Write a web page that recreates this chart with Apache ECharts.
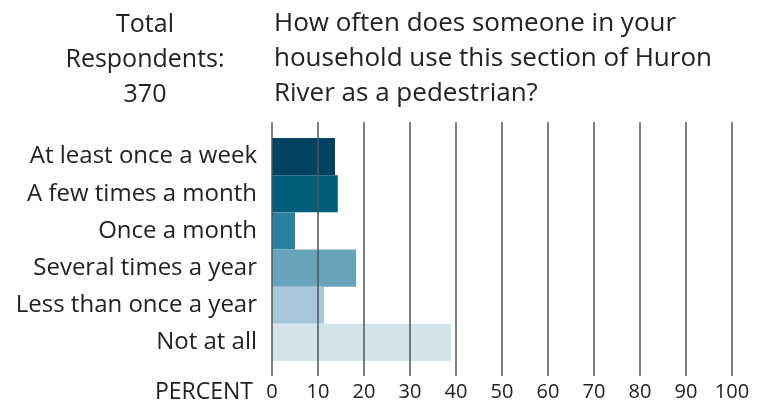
<!DOCTYPE html>
<html>
<head>
<meta charset="utf-8">
<script src="https://cdn.jsdelivr.net/npm/echarts@6/dist/echarts.min.js"></script>
<style>
  html, body { margin: 0; padding: 0; background: #fff; }
  #chart { width: 759px; height: 407px; }
</style>
</head>
<body>
<div id="chart"></div>
<script>
var categories = ['At least once a week', 'A few times a month', 'Once a month',
                  'Several times a year', 'Less than once a year', 'Not at all'];
var percents = [13.7, 14.3, 5.0, 18.3, 11.3, 38.9];
var barColors = ['#00425f', '#005e7b', '#2b7f9f', '#68a3bc', '#a5c7d9', '#d4e4ed'];
var tickLabels = [0, 10, 20, 30, 40, 50, 60, 70, 80, 90, 100];

var font = '"Open Sans", "Noto Sans", sans-serif';

var myChart = echarts.init(document.getElementById('chart'));
myChart.setOption({
    animation: false,
    title: [
        {
            text: 'How often does someone in your\nhousehold use this section of Huron\nRiver as a pedestrian?',
            left: 269, top: 1,
            textStyle: { fontFamily: font, fontSize: 26, fontWeight: 'normal', color: '#222', lineHeight: 35 }
        },
        {
            text: 'Total\nRespondents:\n370',
            left: 140, top: 2, textAlign: 'center',
            textStyle: { fontFamily: font, fontSize: 25, fontWeight: 'normal', color: '#222', lineHeight: 35 }
        },
        {
            text: 'PERCENT',
            right: 759 - 258, top: 376,
            textStyle: { fontFamily: font, fontSize: 23, fontWeight: 'normal', color: '#222' }
        }
    ],
    grid: [
        { left: 272, width: 460, top: 122, bottom: 31 },
        { left: 272, width: 460, top: 138, height: 223 }
    ],
    xAxis: [
        {
            gridIndex: 0, type: 'value', min: 0, max: 100, interval: 10, z: 10,
            axisLine: { show: false }, axisTick: { show: false },
            splitLine: { show: true, lineStyle: { color: '#555', width: 1.5 } },
            axisLabel: {
                margin: 6, fontFamily: font, fontSize: 20, color: '#222',
                formatter: function (v) { return tickLabels.indexOf(v) >= 0 ? String(v) : ''; }
            }
        },
        {
            gridIndex: 1, type: 'value', min: 0, max: 100, show: false
        }
    ],
    yAxis: [
        { gridIndex: 0, type: 'value', show: false, min: 0, max: 1 },
        {
            gridIndex: 1, type: 'category', inverse: true, data: categories,
            axisLine: { show: false }, axisTick: { show: false },
            axisLabel: { margin: 15, fontFamily: font, fontSize: 24, color: '#222' }
        }
    ],
    series: [
        {
            type: 'bar', xAxisIndex: 1, yAxisIndex: 1,
            barCategoryGap: 0,
            data: percents.map(function (v, i) {
                return { value: v, itemStyle: { color: barColors[i] } };
            })
        }
    ]
});
</script>
</body>
</html>
